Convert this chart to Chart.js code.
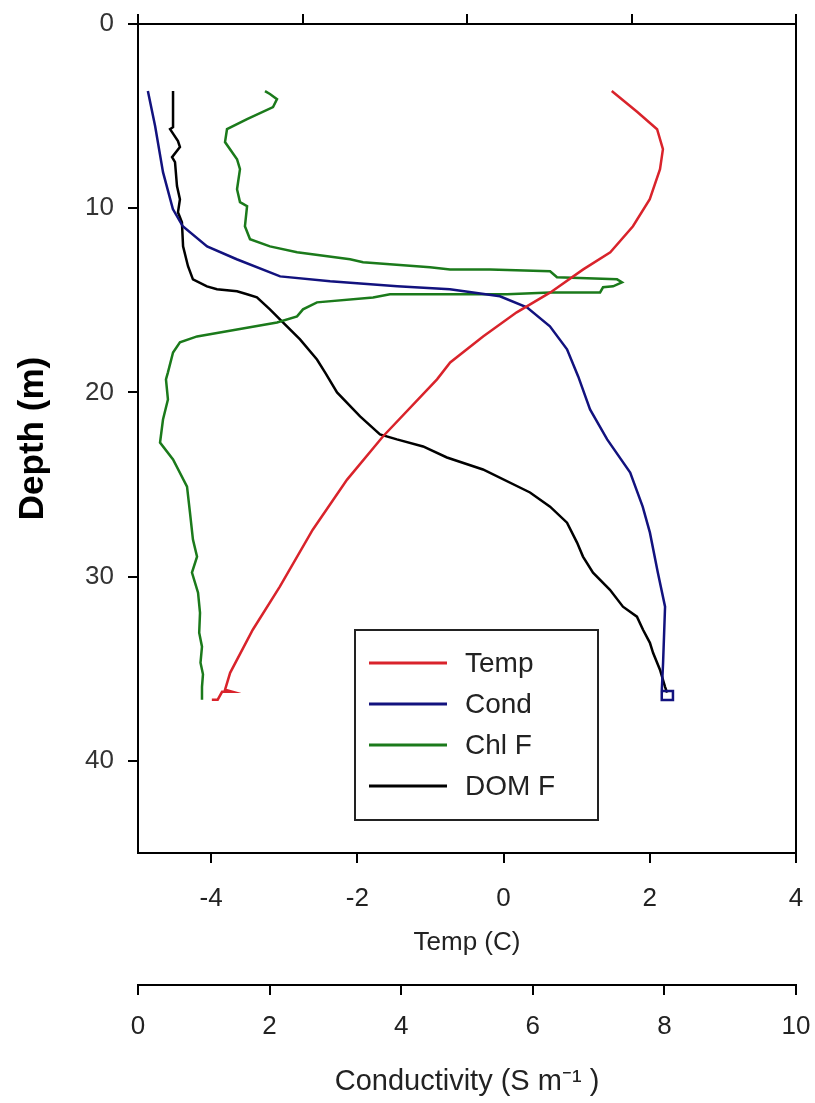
<!doctype html>
<html lang="en">
<head>
    <meta charset="UTF-8">
    <title>Depth profile</title>
    <script src="https://cdn.jsdelivr.net/npm/chart.js"></script>
    <style>
        html, body { margin: 0; padding: 0; background: #fff; }
        #profile { display: block; }
    </style>
</head>
<body>
    <canvas id="profile" width="815" height="1103"></canvas>

    <script>
        // ticks
        const depthTicks = [0, 10, 20, 30, 40];
        const tempTicks = [-4, -2, 0, 2, 4];
        const condTicks = [0, 2, 4, 6, 8, 10];
        const fluorTicks = [0, 1, 2, 3, 4];

        // Temp (C) vs depth (m)
        const tempDepth = [3.64, 4.78, 5.71, 6.79, 7.88, 9.51, 10.98, 12.39, 13.32, 14.57, 15.65, 16.96, 18.37, 19.29,
            22.39, 24.73, 27.45, 30.54, 32.88, 35.22, 36.14, 36.25, 36.25, 36.68, 36.68];
        const tempVals = [1.48, 1.83, 2.10, 2.18, 2.14, 2.00, 1.77, 1.46, 1.09, 0.64, 0.18, -0.28, -0.73, -0.91,
            -1.65, -2.14, -2.61, -3.06, -3.43, -3.74, -3.81, -3.71, -3.85, -3.91, -3.99];

        // Conductivity (S m-1) vs depth
        const condDepth = [3.64, 5.54, 8.04, 10.05, 10.98, 12.07, 12.77, 13.70, 13.97, 14.24, 14.40, 14.78, 15.38, 16.41,
            17.66, 19.13, 20.92, 22.55, 24.35, 26.20, 27.61, 29.78, 31.63, 34.67, 36.20, 36.20, 36.70, 36.70, 36.20];
        const condVals = [0.15, 0.26, 0.38, 0.53, 0.68, 1.05, 1.50, 2.16, 2.92, 3.94, 4.74, 5.50, 5.91, 6.26,
            6.52, 6.69, 6.87, 7.13, 7.48, 7.67, 7.78, 7.90, 8.01, 7.98, 7.96, 8.13, 8.13, 7.96, 7.96];

        // Chl F vs depth
        const chlDepth = [3.64, 3.80, 4.08, 4.51, 5.16, 5.71, 6.41, 7.34, 7.88, 8.97, 9.67, 9.89, 10.98, 11.68, 12.07,
            12.39, 12.77, 12.93, 13.21, 13.32, 13.32, 13.42, 13.75, 13.86, 14.02, 14.24, 14.29, 14.57, 14.57, 14.67,
            14.67, 14.67, 14.84, 15.11, 15.49, 15.87, 16.20, 16.58, 16.96, 17.28, 17.83, 18.91, 19.29, 20.38, 21.47,
            22.72, 23.64, 25.11, 26.52, 27.99, 28.91, 29.78, 30.87, 31.96, 33.04, 33.80, 34.67, 35.30, 35.98, 36.68];
        const chlVals = [0.772, 0.802, 0.845, 0.821, 0.663, 0.541, 0.529, 0.602, 0.620, 0.602, 0.620, 0.663, 0.650, 0.681, 0.802,
            0.967, 1.289, 1.368, 1.775, 1.897, 2.140, 2.505, 2.547, 2.912, 2.942, 2.888, 2.827, 2.809, 2.505, 2.243,
            1.897, 1.532, 1.429, 1.088, 1.003, 0.967, 0.845, 0.602, 0.359, 0.255, 0.213, 0.182, 0.170, 0.182, 0.152,
            0.134, 0.213, 0.298, 0.316, 0.334, 0.359, 0.328, 0.365, 0.377, 0.372, 0.389, 0.380, 0.395, 0.389, 0.389];

        // DOM F vs depth
        const domDepth = [3.64, 5.60, 5.71, 6.36, 6.68, 7.23, 7.50, 8.80, 9.51, 10.22, 10.76, 12.07, 13.15, 13.86, 14.24,
            14.40, 14.51, 14.67, 14.84, 15.49, 16.20, 17.12, 18.21, 18.91, 20.00, 21.30, 22.28, 22.55, 22.93, 23.53,
            24.18, 25.43, 26.20, 27.07, 28.15, 28.91, 29.78, 30.71, 31.63, 32.17, 32.88, 33.59, 34.13, 35.05, 35.98, 36.30];
        const domVals = [0.213, 0.213, 0.195, 0.243, 0.255, 0.207, 0.225, 0.237, 0.255, 0.243, 0.267, 0.274, 0.304, 0.334, 0.419,
            0.480, 0.602, 0.663, 0.723, 0.802, 0.881, 0.985, 1.088, 1.137, 1.210, 1.350, 1.471, 1.574, 1.733, 1.878,
            2.097, 2.383, 2.505, 2.608, 2.669, 2.705, 2.766, 2.869, 2.948, 3.033, 3.070, 3.112, 3.131, 3.173, 3.204, 3.216];

        const fam = "'Liberation Sans', Arial, sans-serif";

        function pts(xs, ys) {
            return xs.map((v, i) => ({ x: v, y: ys[i] }));
        }

        function series(label, color, xAxis, xs, ys) {
            return {
                label: label,
                data: pts(xs, ys),
                xAxisID: xAxis,
                yAxisID: 'y',
                showLine: true,
                borderColor: color,
                backgroundColor: color,
                borderWidth: 2.5,
                pointRadius: 0,
                tension: 0
            };
        }

        function fixedTicks(list) {
            return scale => { scale.ticks = list.map(v => ({ value: v })); };
        }

        // horizontal axes: fixed height, no extra side padding for end labels
        function fitX(h) {
            return s => { s.height = h; s.paddingLeft = 0; s.paddingRight = 0; };
        }

        // right side of the frame
        const framePlugin = {
            id: 'frame',
            afterDatasetsDraw(chart) {
                const { ctx, chartArea } = chart;
                ctx.save();
                ctx.strokeStyle = '#000';
                ctx.lineWidth = 2;
                ctx.beginPath();
                ctx.moveTo(chartArea.right, chartArea.top);
                ctx.lineTo(chartArea.right, chartArea.bottom);
                ctx.stroke();
                ctx.restore();
            }
        };

        // boxed legend inside the plot
        const boxLegend = {
            id: 'boxLegend',
            afterDraw(chart) {
                const ctx = chart.ctx;
                const bx = 355, by = 630, bw = 243, bh = 190;
                ctx.save();
                ctx.fillStyle = '#fff';
                ctx.fillRect(bx, by, bw, bh);
                ctx.strokeStyle = '#222';
                ctx.lineWidth = 2;
                ctx.strokeRect(bx, by, bw, bh);
                ctx.font = '28px ' + fam;
                ctx.textBaseline = 'middle';
                chart.data.datasets.forEach((ds, i) => {
                    const ly = by + 33 + i * 41;
                    ctx.strokeStyle = ds.borderColor;
                    ctx.lineWidth = 3;
                    ctx.beginPath();
                    ctx.moveTo(bx + 14, ly);
                    ctx.lineTo(bx + 92, ly);
                    ctx.stroke();
                    ctx.fillStyle = '#222';
                    ctx.fillText(ds.label, bx + 110, ly + 1);
                });
                ctx.restore();
            }
        };

        const axisGrid = { drawOnChartArea: false, color: '#000', lineWidth: 2, tickLength: 10 };
        const axisBorder = { color: '#000', width: 2 };
        const tickFont = { family: fam, size: 26 };

        new Chart(document.getElementById('profile'), {
            type: 'scatter',
            data: {
                datasets: [
                    series('Temp', '#d9232b', 'xT', tempVals, tempDepth),
                    series('Cond', '#12127e', 'xC', condVals, condDepth),
                    series('Chl F', '#1b7a1b', 'xF', chlVals, chlDepth),
                    series('DOM F', '#000000', 'xF', domVals, domDepth)
                ]
            },
            options: {
                responsive: false,
                animation: false,
                layout: { padding: { left: 0, right: 19, top: 0, bottom: 0 } },
                plugins: {
                    legend: { display: false },
                    tooltip: { enabled: false }
                },
                scales: {
                    y: {
                        type: 'linear',
                        position: 'left',
                        reverse: true,
                        min: 0,
                        max: 45,
                        afterBuildTicks: fixedTicks(depthTicks),
                        afterFit: s => { s.width = 138; s.paddingTop = 0; s.paddingBottom = 0; },
                        grid: axisGrid,
                        border: axisBorder,
                        ticks: { color: '#333', font: tickFont, padding: 14 },
                        title: {
                            display: true,
                            text: 'Depth (m)',
                            color: '#000',
                            font: { family: fam, size: 35, weight: 'bold' },
                            padding: { top: 12, bottom: 0 }
                        }
                    },
                    xT: {
                        type: 'linear',
                        position: 'bottom',
                        min: -5,
                        max: 4,
                        afterBuildTicks: fixedTicks(tempTicks),
                        afterFit: fitX(132),
                        grid: axisGrid,
                        border: axisBorder,
                        ticks: { color: '#222', font: tickFont, padding: 20, maxRotation: 0 },
                        title: {
                            display: true,
                            text: 'Temp (C)',
                            color: '#222',
                            font: { family: fam, size: 26 },
                            padding: { top: 0, bottom: 27 }
                        }
                    },
                    xC: {
                        type: 'linear',
                        position: 'bottom',
                        min: 0,
                        max: 10,
                        afterBuildTicks: fixedTicks(condTicks),
                        afterFit: fitX(118),
                        grid: axisGrid,
                        border: axisBorder,
                        ticks: { color: '#222', font: tickFont, padding: 16, maxRotation: 0 },
                        title: {
                            display: true,
                            text: 'Conductivity (S m\u207B\u00B9 )',
                            color: '#222',
                            font: { family: fam, size: 29 },
                            padding: { top: 0, bottom: 4 }
                        }
                    },
                    xF: {
                        type: 'linear',
                        position: 'top',
                        min: 0,
                        max: 4,
                        afterBuildTicks: fixedTicks(fluorTicks),
                        afterFit: fitX(24),
                        grid: axisGrid,
                        border: axisBorder,
                        ticks: { display: false }
                    }
                }
            },
            plugins: [framePlugin, boxLegend]
        });
    </script>
</body>
</html>
